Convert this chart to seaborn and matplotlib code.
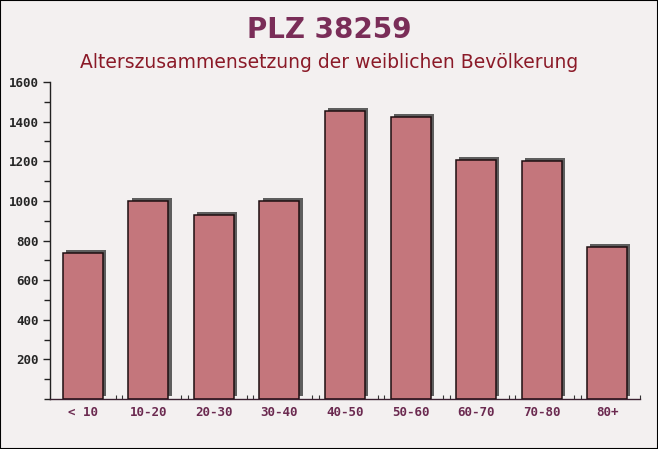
import matplotlib
matplotlib.use("Agg")
import matplotlib.pyplot as plt
import matplotlib.patheffects as pe
from matplotlib.patches import Rectangle
from matplotlib.ticker import MultipleLocator, FixedLocator
import seaborn as sns
import pandas as pd

categories = ["< 10", "10-20", "20-30", "30-40", "40-50", "50-60", "60-70", "70-80", "80+"]
values = [737, 999, 929, 999, 1454, 1423, 1206, 1201, 767]
yticks = [200, 400, 600, 800, 1000, 1200, 1400, 1600]

title = "PLZ 38259"
subtitle = "Alterszusammensetzung der weiblichen Bevölkerung"

df = pd.DataFrame({"Alter": categories, "Anzahl": values})

sns.set_theme(style="white")
plt.rcParams["font.family"] = ["DejaVu Sans"]

fig = plt.figure(figsize=(6.58, 4.49), dpi=100)
bg = "#f3f0f0"
fig.patch.set_facecolor(bg)
ax = fig.add_axes([50 / 658, 1 - 399 / 449, 590 / 658, 317 / 449])
ax.set_facecolor("none")

sns.barplot(data=df, x="Alter", y="Anzahl", ax=ax, color="#c4767c",
            saturation=1, width=0.61, edgecolor="#1e0e10", linewidth=1.1)

for p in ax.patches:
    p.set_path_effects([pe.SimplePatchShadow(offset=(2.3, 2.3), shadow_rgbFace="#5e5e5e", alpha=1.0),
                        pe.Normal()])

n = len(categories)
ax.set_xlim(-0.5, n - 0.5)
ax.set_ylim(0, 1600)
ax.set_yticks(yticks)
ax.yaxis.set_minor_locator(MultipleLocator(100))
ax.xaxis.set_minor_locator(FixedLocator([k + 0.5 for k in range(n)] + [k + 0.6 for k in range(n - 1)]))
ax.set_xlabel("")
ax.set_ylabel("")

for s in ["top", "right"]:
    ax.spines[s].set_visible(False)
ax.spines["left"].set_color("#222222")
ax.spines["bottom"].set_color("#3a2030")
ax.spines["left"].set_linewidth(1)
ax.spines["bottom"].set_linewidth(1)

ax.tick_params(axis="y", which="major", direction="out", length=5, width=1, color="#222222",
               left=True, labelsize=9, pad=3)
ax.tick_params(axis="y", which="minor", direction="out", length=4, width=1, color="#222222", left=True)
ax.tick_params(axis="x", which="major", direction="out", length=0, labelsize=9, pad=5,
               labelcolor="#6b2a50")
ax.tick_params(axis="x", which="minor", direction="in", length=3, width=0.8, color="#333333", bottom=True)
for lab in ax.get_yticklabels() + ax.get_xticklabels():
    lab.set_fontfamily("DejaVu Sans Mono")
    lab.set_fontweight("bold")

fig.text(0.5, 1 - 30 / 449, title, ha="center", va="center", fontsize=20,
         fontweight="bold", color="#7a2d58")
fig.text(0.5, 1 - 62 / 449, subtitle, ha="center", va="center", fontsize=13.5,
         color="#8b1a28")

fig.patches.append(Rectangle((0, 0), 1, 1, transform=fig.transFigure, fill=False,
                             edgecolor="black", linewidth=1.5, zorder=10))

fig.savefig("out.png", dpi=100, facecolor=bg)
